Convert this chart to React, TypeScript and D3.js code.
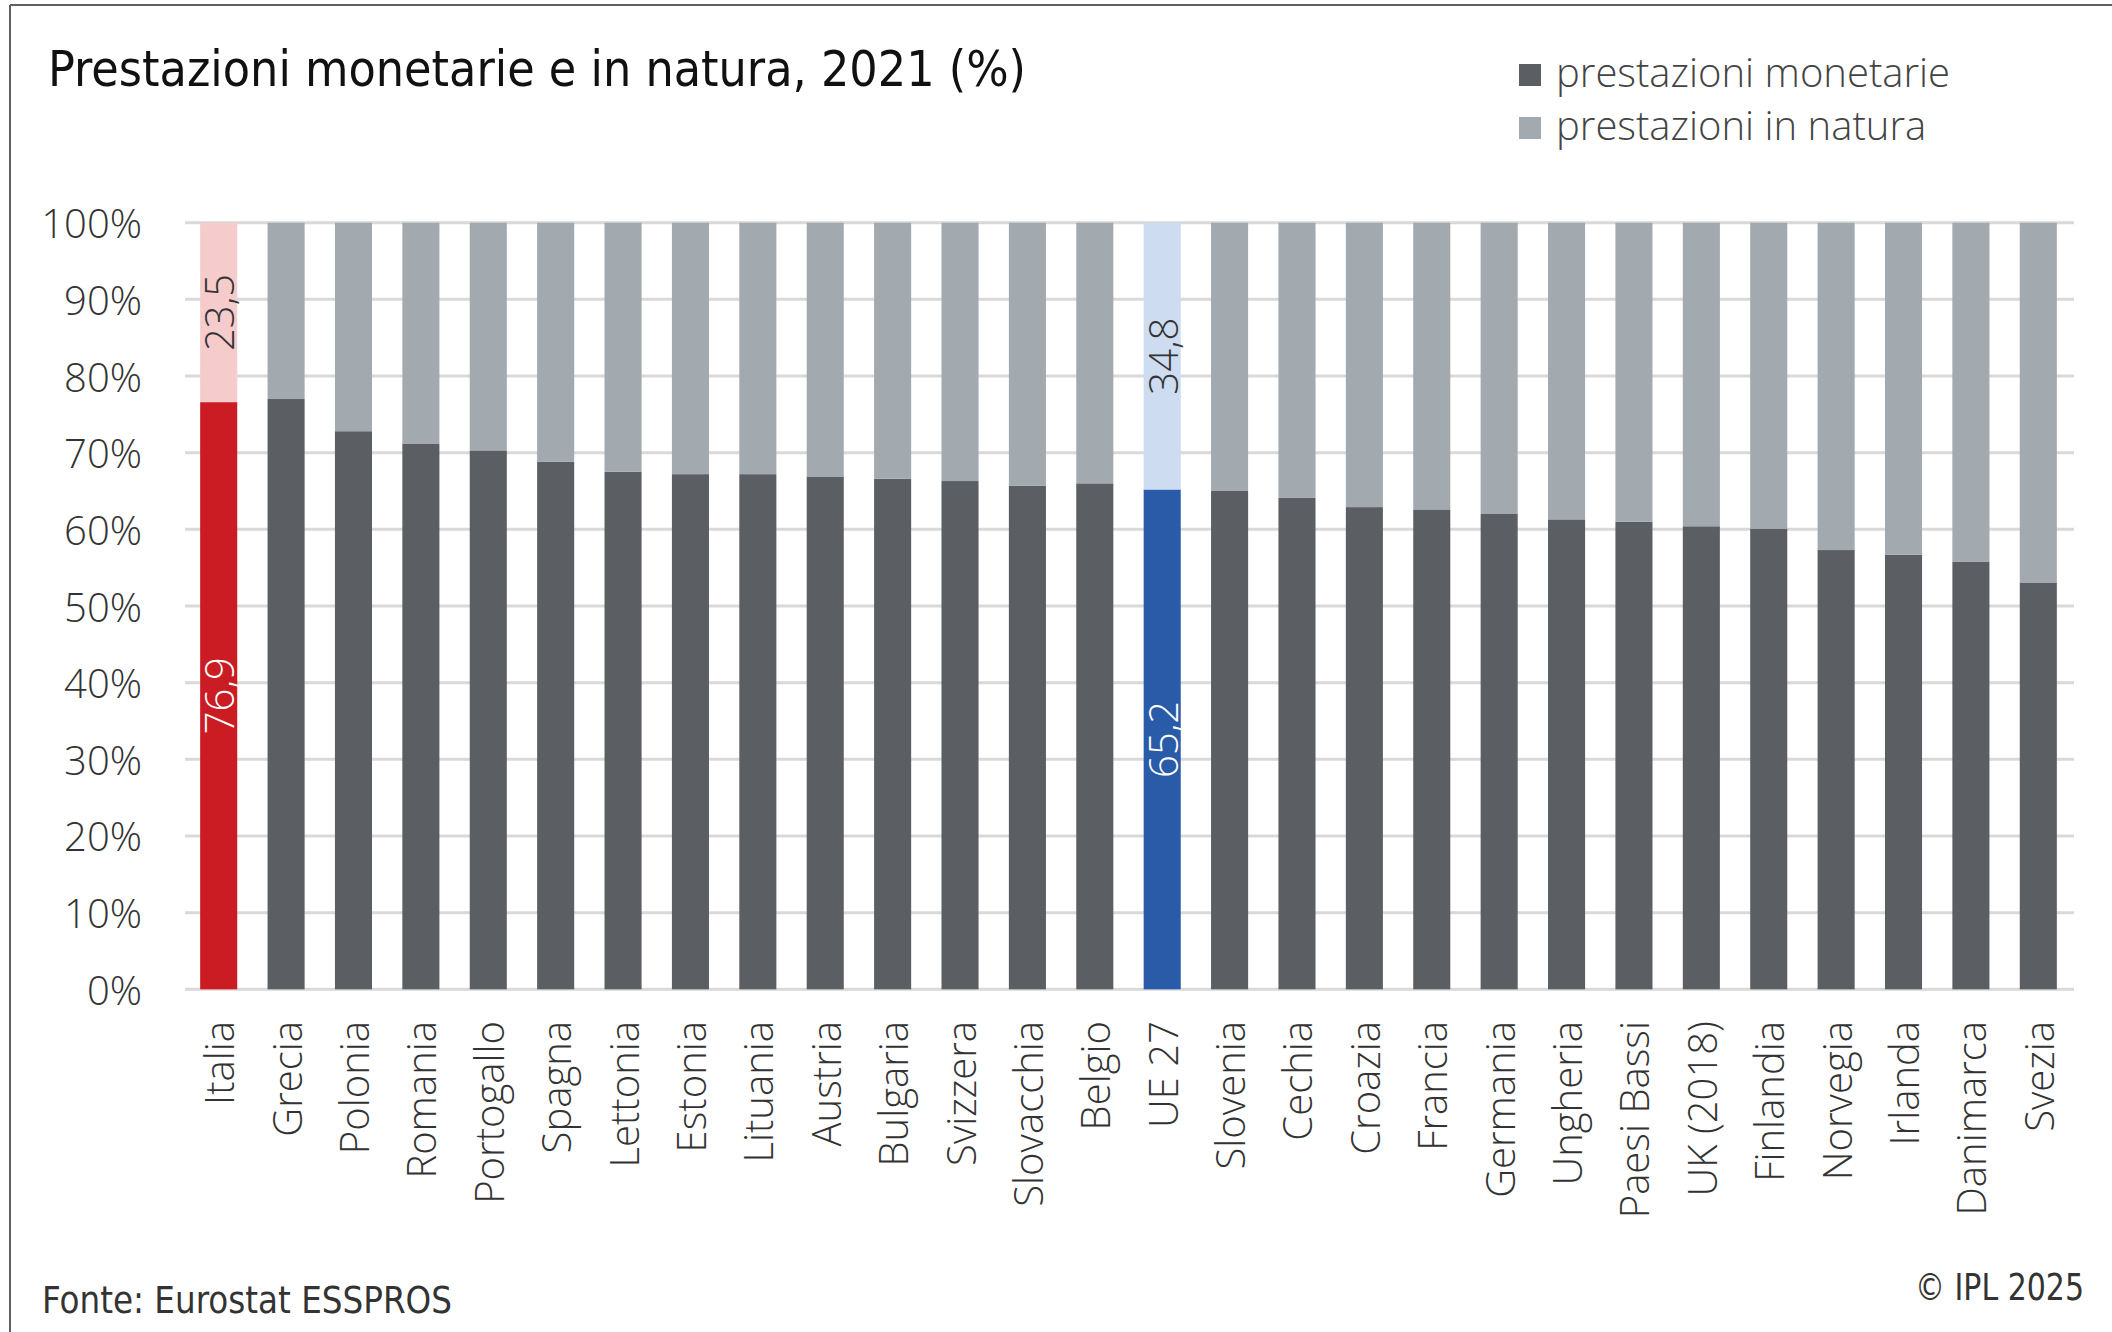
import React from "react";
import * as d3 from "d3";

const countries = [
  "Italia", "Grecia", "Polonia", "Romania", "Portogallo", "Spagna", "Lettonia",
  "Estonia", "Lituania", "Austria", "Bulgaria", "Svizzera", "Slovacchia", "Belgio",
  "UE 27", "Slovenia", "Cechia", "Croazia", "Francia", "Germania", "Ungheria",
  "Paesi Bassi", "UK (2018)", "Finlandia", "Norvegia", "Irlanda", "Danimarca", "Svezia",
];
const monetarie = [
  76.9, 77.0, 72.8, 71.2, 70.3, 68.8, 67.5, 67.2, 67.2, 66.9, 66.6, 66.3, 65.7, 66.0,
  65.2, 65.0, 64.1, 62.9, 62.6, 62.0, 61.3, 61.0, 60.4, 60.1, 57.3, 56.7, 55.8, 53.0,
];
const natura = [
  23.5, 23.0, 27.2, 28.8, 29.7, 31.2, 32.5, 32.8, 32.8, 33.1, 33.4, 33.7, 34.3, 34.0,
  34.8, 35.0, 35.9, 37.1, 37.4, 38.0, 38.7, 39.0, 39.6, 39.9, 42.7, 43.3, 44.2, 47.0,
];
const yTicks = [0, 0.1, 0.2, 0.3, 0.4, 0.5, 0.6, 0.7, 0.8, 0.9, 1.0];
const labelled = ["Italia", "UE 27"];

const TITLE = "Prestazioni monetarie e in natura, 2021 (%)";
const LEGEND = ["prestazioni monetarie", "prestazioni in natura"];
const SOURCE = "Fonte: Eurostat ESSPROS";
const CREDIT = "© IPL 2025";

const palette: Record<string, [string, string]> = {
  Italia: ["#cc1c23", "#f5cbcb"],
  "UE 27": ["#2a5ba9", "#cddcf0"],
  default: ["#5b5f63", "#a2a9af"],
};
const textFill: Record<string, [string, string]> = {
  Italia: ["#ffffff", "#333333"],
  "UE 27": ["#ffffff", "#333333"],
};

const W = 2112;
const H = 1332;
const FS = 40;
const lightFont = "'Open Sans', 'Noto Sans', sans-serif";
const condFont = "'Liberation Sans Narrow', 'DejaVu Sans Condensed', sans-serif";

export default function App() {
  const rows = countries.map((c, i) => ({ c, m: monetarie[i], n: natura[i] }));
  const stack = d3.stack<any>().keys(["m", "n"]).offset(d3.stackOffsetExpand);
  const series = stack(rows);

  const x = d3.scaleBand<string>().domain(countries).range([185, 2072]).paddingInner(0.45).paddingOuter(0.225);
  const y = d3.scaleLinear().domain([0, 1]).range([989.3, 222.7]);
  const bw = x.bandwidth();

  return (
    <svg width={W} height={H} style={{ position: "absolute", left: 0, top: 0, background: "#fff" }}>
      <rect x={0} y={0} width={W} height={H} fill="#ffffff" />
      <line x1={10} y1={5} x2={W} y2={5} stroke="#5e6064" strokeWidth={2} />
      <line x1={10} y1={5} x2={10} y2={H} stroke="#5e6064" strokeWidth={2} />

      <text x={48} y={86} fontFamily={condFont} fontSize={50} fill="#111" textLength={978} lengthAdjust="spacingAndGlyphs">
        {TITLE}
      </text>

      {LEGEND.map((t, i) => (
        <g key={t}>
          <rect x={1519} y={64 + i * 53} width={22} height={22} fill={i === 0 ? palette.default[0] : palette.default[1]} />
          <text x={1556} y={87 + i * 53} fontFamily={lightFont} fontWeight={300} fontSize={FS} fill="#444">
            {t}
          </text>
        </g>
      ))}

      {yTicks.map((t) => (
        <g key={t}>
          <line x1={185} x2={2074} y1={y(t)} y2={y(t)} stroke="#d9d9d9" strokeWidth={3} />
          <text x={142} y={y(t)} textAnchor="end" dominantBaseline="central" fontFamily={lightFont} fontWeight={300} fontSize={FS} fill="#333">
            {d3.format(".0%")(t)}
          </text>
        </g>
      ))}

      {series.map((s, si) =>
        s.map((d: any) => {
          const c = d.data.c;
          const col = (palette[c] || palette.default)[si];
          return (
            <rect key={c + si} x={x(c)} y={y(d[1])} width={bw} height={y(d[0]) - y(d[1])} fill={col} />
          );
        })
      )}

      {series.map((s, si) =>
        s
          .filter((d: any) => labelled.includes(d.data.c))
          .map((d: any) => {
            const c = d.data.c;
            const cx = (x(c) as number) + bw / 2;
            const cy = (y(d[0]) + y(d[1])) / 2;
            const v = si === 0 ? d.data.m : d.data.n;
            return (
              <text
                key={"l" + c + si}
                transform={`translate(${cx},${cy}) rotate(-90)`}
                textAnchor="middle"
                dominantBaseline="central"
                fontFamily={lightFont}
                fontWeight={300}
                fontSize={FS}
                fill={textFill[c][si]}
              >
                {d3.format(".1f")(v).replace(".", ",")}
              </text>
            );
          })
      )}

      {countries.map((c) => (
        <text
          key={"x" + c}
          transform={`translate(${(x(c) as number) + bw / 2},1021) rotate(-90)`}
          textAnchor="end"
          dominantBaseline="central"
          fontFamily={lightFont}
          fontWeight={300}
          fontSize={FS}
          fill="#333"
        >
          {c}
        </text>
      ))}

      <text x={42} y={1313} fontFamily={condFont} fontSize={37} fill="#333" textLength={410} lengthAdjust="spacingAndGlyphs">
        {SOURCE}
      </text>
      <text x={2084} y={1300} textAnchor="end" fontFamily={condFont} fontSize={37} fill="#333" textLength={169} lengthAdjust="spacingAndGlyphs">
        {CREDIT}
      </text>
    </svg>
  );
}
